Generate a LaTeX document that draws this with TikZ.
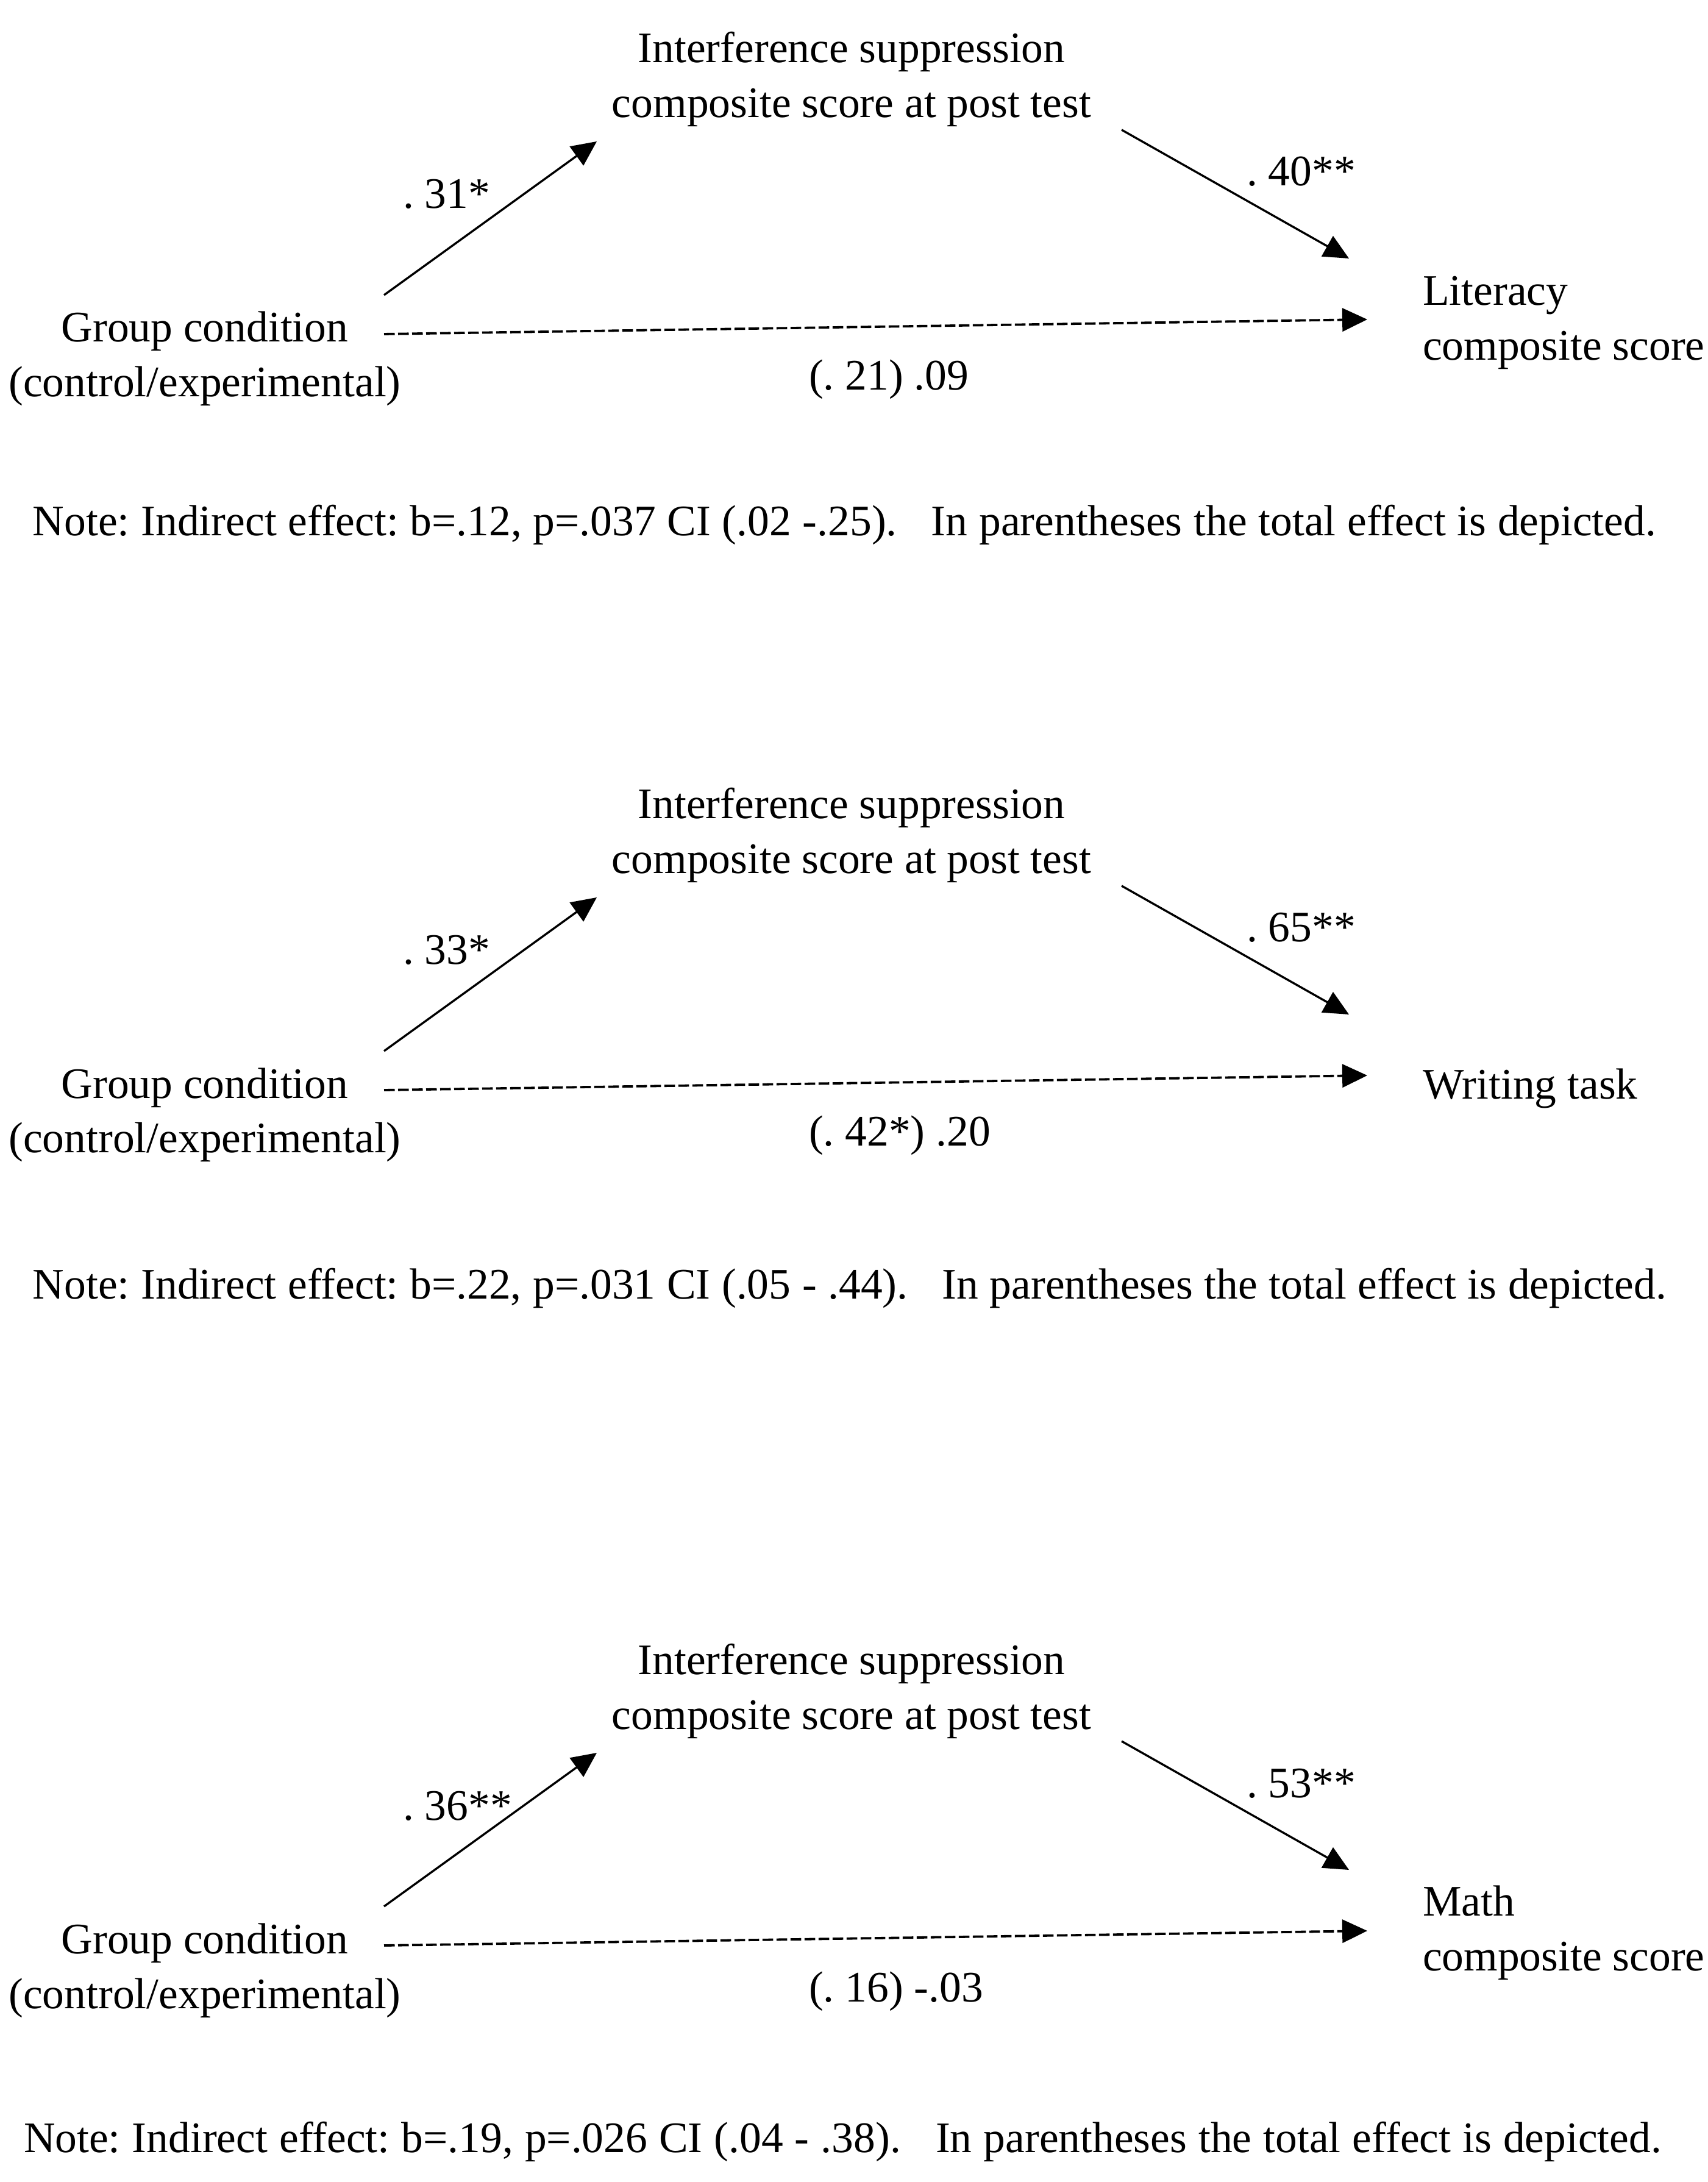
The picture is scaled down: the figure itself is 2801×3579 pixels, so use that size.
\documentclass[tikz,border=0pt]{standalone}
\usepackage{fontspec}
\setmainfont{Liberation Serif}
\usetikzlibrary{arrows.meta}
\frenchspacing
\begin{document}
\begin{tikzpicture}[x=0.1pt,y=-0.1pt,
  txt/.style={inner sep=0pt, outer sep=0pt, font=\fontsize{7.15}{9}\selectfont},
  hdr/.style={txt, align=center, anchor=base},
  lbl/.style={txt, align=left, anchor=base west},
  arr/.style={line width=0.34pt, -{Triangle[length=4.1pt,width=3.8pt]}},
  dasharr/.style={arr, line width=0.38pt, dash pattern=on 1.75pt off 0.55pt}]
\fill[white] (0,0) rectangle (2801,3579);
\useasboundingbox (0,0) rectangle (2801,3579);

% ---------- Panel 1 ----------
\node[hdr] (m1) at (1397,193) {Interference suppression\\composite score at post test};
\node[hdr] (x1) at (336,651) {Group condition\\(control/experimental)};
\node[lbl] (y1) at (2334,591) {Literacy\\composite score};
\coordinate (x1a) at (630,484); \coordinate (m1a) at (979,232);
\coordinate (m1b) at (1840,213); \coordinate (y1b) at (2213,424);
\coordinate (x1c) at (630,548); \coordinate (y1c) at (2243,524);
\draw[arr] (x1a) -- (m1a);
\draw[arr] (m1b) -- (y1b);
\draw[dasharr] (x1c) -- (y1c);
\node[lbl] (a1) at (661,342) {. 31*};
\node[lbl] (b1) at (2045,305) {. 40**};
\node[lbl] (c1) at (1327,640) {(. 21) .09};
\node[lbl] (n1) at (54,879) {\makebox[266.3pt][s]{Note: Indirect effect: b=.12, p=.037 CI (.02 -.25).\ \ \ In parentheses the total effect is depicted.}};

% ---------- Panel 2 ----------
\begin{scope}[shift={(0,1240)}]
\node[hdr] (m2) at (1397,193) {Interference suppression\\composite score at post test};
\node[hdr] (x2) at (336,651) {Group condition\\(control/experimental)};
\node[lbl] (y2) at (2334,563) {Writing task};
\coordinate (x2a) at (630,484); \coordinate (m2a) at (979,232);
\coordinate (m2b) at (1840,213); \coordinate (y2b) at (2213,424);
\coordinate (x2c) at (630,548); \coordinate (y2c) at (2243,524);
\draw[arr] (x2a) -- (m2a);
\draw[arr] (m2b) -- (y2b);
\draw[dasharr] (x2c) -- (y2c);
\node[lbl] (a2) at (661,342) {. 33*};
\node[lbl] (b2) at (2045,305) {. 65**};
\node[lbl] (c2) at (1327,640) {(. 42*) .20};
\node[lbl] (n2) at (54,890) {\makebox[268pt][s]{Note: Indirect effect: b=.22, p=.031 CI (.05 - .44).\ \ \ In parentheses the total effect is depicted.}};
\end{scope}

% ---------- Panel 3 ----------
\begin{scope}[shift={(0,2643)}]
\node[hdr] (m3) at (1397,193) {Interference suppression\\composite score at post test};
\node[hdr] (x3) at (336,651) {Group condition\\(control/experimental)};
\node[lbl] (y3) at (2334,589) {Math\\composite score};
\coordinate (x3a) at (630,484); \coordinate (m3a) at (979,232);
\coordinate (m3b) at (1840,213); \coordinate (y3b) at (2213,424);
\coordinate (x3c) at (630,548); \coordinate (y3c) at (2243,524);
\draw[arr] (x3a) -- (m3a);
\draw[arr] (m3b) -- (y3b);
\draw[dasharr] (x3c) -- (y3c);
\node[lbl] (a3) at (661,342) {. 36**};
\node[lbl] (b3) at (2045,305) {. 53**};
\node[lbl] (c3) at (1327,640) {(. 16) -.03};
\node[lbl] (n3) at (39,887) {\makebox[268.7pt][s]{Note: Indirect effect: b=.19, p=.026 CI (.04 - .38).\ \ \ In parentheses the total effect is depicted.}};
\end{scope}
\end{tikzpicture}
\end{document}
